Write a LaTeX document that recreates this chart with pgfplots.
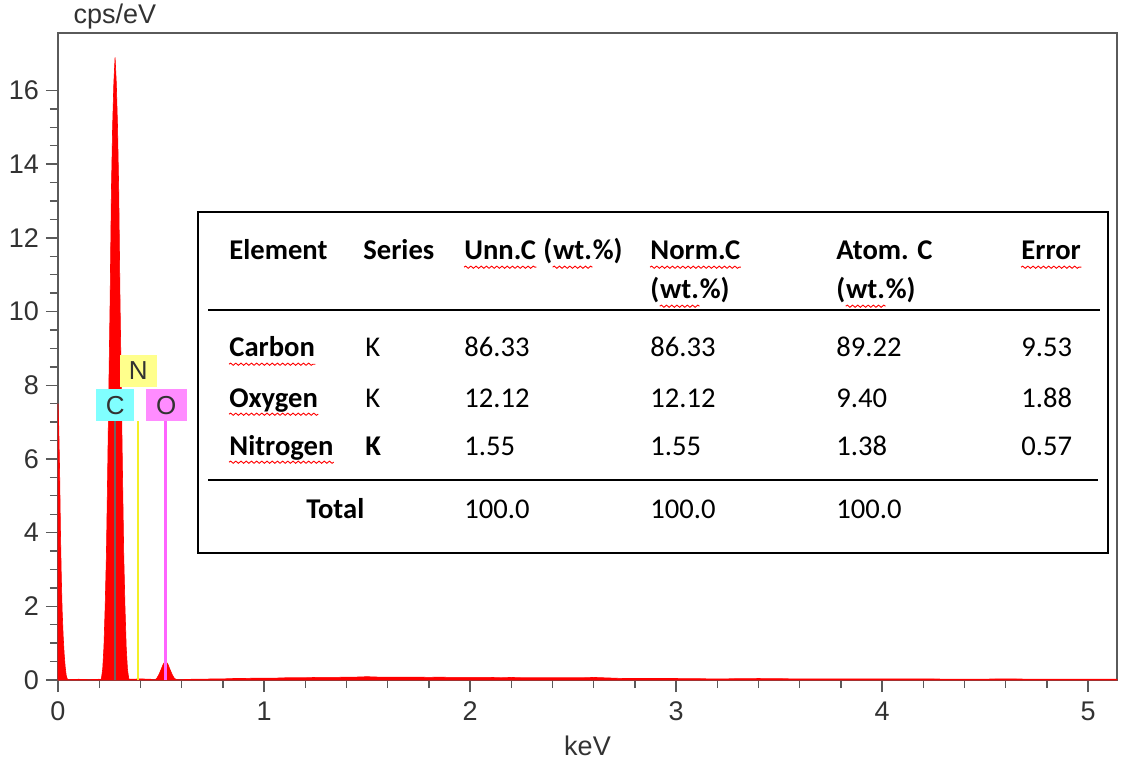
\documentclass[border=0pt]{standalone}
\usepackage{pgfplots}
\pgfplotsset{compat=1.18}
\usetikzlibrary{calc, decorations.pathmorphing}
\usepackage{fontspec}
\setmainfont{Liberation Sans}
\newfontfamily\tablefont{Carlito}

\definecolor{axisgrey}{RGB}{90,90,90}
\definecolor{labelgrey}{RGB}{50,50,50}
\definecolor{markC}{RGB}{128,255,255}
\definecolor{markN}{RGB}{255,255,140}
\definecolor{markO}{RGB}{255,140,255}
\definecolor{lineC}{RGB}{110,100,100}
\definecolor{lineN}{RGB}{245,240,40}
\definecolor{lineO}{RGB}{255,100,255}

\tikzset{spell/.style={red, line width=0.45pt, decorate,
  decoration={snake, amplitude=0.55pt, segment length=2.6pt}}}

\begin{document}
\begin{tikzpicture}
\begin{axis}[
  scale only axis,
  width=529.5pt, height=323.5pt,
  xmin=0, xmax=5.14, ymin=0, ymax=17.56,
  xtick={0,1,2,3,4,5}, ytick={0,2,4,6,8,10,12,14,16},
  minor x tick num=4, minor y tick num=3,
  tick align=outside, tick pos=left,
  major tick length=6pt, minor tick length=4pt,
  axis line style={axisgrey, line width=0.8pt},
  every tick/.style={axisgrey, line width=0.7pt},
  /pgf/number format/assume math mode=true,
  ticklabel style={font=\fontsize{13.5}{15}\selectfont, text=labelgrey},
  xticklabel style={yshift=-1.5pt},
  clip=false,
]
% measured spectrum: zero-energy peak, C K, O K and the continuum
\addplot[draw=red, fill=red, line width=0.3pt] coordinates {
(0,7.5) (0.004,6.8) (0.008,5.6) (0.012,4.0) (0.016,2.8) (0.02,1.9) (0.025,1.2)
(0.03,0.7) (0.035,0.35) (0.04,0.12) (0.045,0.03) (0.05,0.01)
(0.1,0.02) (0.15,0.01) (0.2,0.02)
(0.207,0) (0.211,0.05) (0.217,0.3) (0.223,0.9) (0.229,2.0) (0.235,3.4)
(0.241,5.6) (0.247,8.0) (0.253,10.3) (0.259,13.2) (0.265,15.0) (0.271,16.2)
(0.277,16.9)
(0.283,16.2) (0.289,15.0) (0.295,13.2) (0.301,10.3) (0.307,8.0) (0.313,5.6)
(0.319,3.4) (0.325,2.0) (0.331,0.9) (0.337,0.3) (0.343,0.05) (0.347,0)
(0.35,0.02) (0.4,0.03) (0.45,0.02)
(0.470,0) (0.480,0.05) (0.490,0.15) (0.500,0.28) (0.510,0.42) (0.522,0.52)
(0.534,0.42) (0.544,0.28) (0.554,0.15) (0.564,0.05) (0.575,0.01)
(0.60,0.01) (0.65,0.02) (0.70,0.02) (0.75,0.03) (0.80,0.03) (0.85,0.04)
(0.90,0.04) (0.95,0.05) (1.00,0.05) (1.05,0.05) (1.10,0.06) (1.15,0.06)
(1.20,0.06) (1.25,0.07) (1.30,0.07) (1.35,0.07) (1.40,0.08) (1.45,0.08)
(1.50,0.09) (1.55,0.08) (1.60,0.08) (1.65,0.08) (1.70,0.08) (1.75,0.08)
(1.80,0.07) (1.85,0.08) (1.90,0.07) (1.95,0.07) (2.00,0.07) (2.05,0.07)
(2.10,0.07) (2.15,0.06) (2.20,0.07) (2.25,0.06) (2.30,0.06) (2.35,0.06)
(2.40,0.06) (2.45,0.06) (2.50,0.06) (2.55,0.06) (2.60,0.07) (2.65,0.06)
(2.70,0.05) (2.75,0.04) (2.80,0.04) (2.90,0.04) (3.00,0.04) (3.20,0.03)
(3.40,0.04) (3.60,0.03) (3.80,0.03) (4.00,0.03) (4.20,0.03) (4.40,0.02)
(4.60,0.03) (4.80,0.02) (5.00,0.02) (5.14,0.02)
} \closedcycle;

% element line markers
\draw[lineC, line width=1.1pt] (axis cs:0.277,0) -- (axis cs:0.277,7.02);
\draw[lineN, line width=1.1pt] (axis cs:0.388,0) -- (axis cs:0.388,7.02);
\draw[lineO, line width=1.1pt] (axis cs:0.522,0) -- (axis cs:0.522,7.02);
\node[fill=markC, text=labelgrey, inner sep=0pt, minimum width=19.2pt, minimum height=16.2pt,
      font=\fontsize{13}{14}\selectfont] at (axis cs:0.278,7.46) {C};
\node[fill=markN, text=labelgrey, inner sep=0pt, minimum width=18.3pt, minimum height=15.8pt,
      font=\fontsize{13}{14}\selectfont] at (axis cs:0.39,8.39) {N};
\node[fill=markO, text=labelgrey, inner sep=0pt, minimum width=20.5pt, minimum height=16.2pt,
      font=\fontsize{13}{14}\selectfont] at (axis cs:0.5255,7.46) {O};

% axis titles
\node[anchor=base west, text=labelgrey, font=\fontsize{13.5}{15}\selectfont]
  at (rel axis cs:0,1) [xshift=4.3pt, yshift=4.5pt] {cps/eV};
\node[anchor=base, text=labelgrey, font=\fontsize{13.5}{15}\selectfont]
  at (rel axis cs:0.5,0) [yshift=-37.5pt] {keV};
\end{axis}

% quantification table
\begin{scope}[shift={(current axis.south west)}, x=0.5pt, y=0.5pt,
  every node/.style={anchor=base west, inner sep=0pt, font=\tablefont\fontsize{14.3}{16}\selectfont}]
  \draw[fill=white, line width=1pt] (140,468) rectangle (1050,127);
  \draw[line width=1pt] (150,370) -- (1042,370);
  \draw[line width=1pt] (150,200) -- (1040,200);
  % header
  \node at (171,420) {\bfseries Element};
  \node at (305,420) {\bfseries Series};
  \node (u1) at (406,420) {\bfseries Unn.C};
  \node (u2) at (u1.base east) {\bfseries\ (};
  \node (u3) at (u2.base east) {\bfseries wt.};
  \node at (u3.base east) {\bfseries \%)};
  \node (n1) at (592,420) {\bfseries Norm.C};
  \node (n2) at (592,381) {\bfseries (};
  \node (n3) at (n2.base east) {\bfseries wt.};
  \node at (n3.base east) {\bfseries \%)};
  \node at (778,420) {\bfseries Atom. C};
  \node (a2) at (778,381) {\bfseries (};
  \node (a3) at (a2.base east) {\bfseries wt.};
  \node at (a3.base east) {\bfseries \%)};
  \node (e1) at (963,420) {\bfseries Error};
  % rows
  \node (r1) at (171,323) {\bfseries Carbon};
  \node at (307,323) {K};
  \node at (406,323) {86.33};
  \node at (592,323) {86.33};
  \node at (778,323) {89.22};
  \node at (963,323) {9.53};
  \node (r2) at (171,273) {\bfseries Oxygen};
  \node at (307,273) {K};
  \node at (406,273) {12.12};
  \node at (592,273) {12.12};
  \node at (778,273) {9.40};
  \node at (963,273) {1.88};
  \node (r3) at (171,225) {\bfseries Nitrogen};
  \node at (307,225) {\bfseries K};
  \node at (406,225) {1.55};
  \node at (592,225) {1.55};
  \node at (778,225) {1.38};
  \node at (963,225) {0.57};
  \node at (248,162) {\bfseries Total};
  \node at (406,162) {100.0};
  \node at (592,162) {100.0};
  \node at (778,162) {100.0};
  % spell-check underlines
  \foreach \w in {u1,u3,n1,n3,a3,e1,r1,r2,r3}
    \draw[spell] ([yshift=-3.6pt]\w.base west) -- ([yshift=-3.6pt]\w.base east);
\end{scope}

\pgfresetboundingbox
\path ($(current axis.south west)+(-29pt,-40pt)$) rectangle ($(current axis.north east)+(2pt,16.5pt)$);
\end{tikzpicture}
\end{document}
